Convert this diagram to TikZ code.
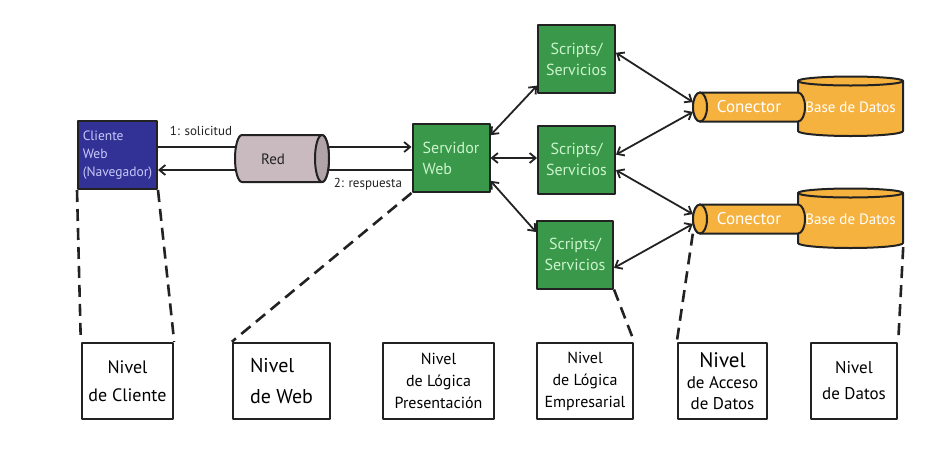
\documentclass[tikz,border=0pt]{standalone}
\usepackage{fontspec}
\setmainfont{PT Sans}
\usetikzlibrary{arrows.meta}

\definecolor{ink}{RGB}{34,34,34}
\definecolor{cliblue}{RGB}{50,50,150}
\definecolor{paleb}{RGB}{200,200,250}
\definecolor{srvgreen}{RGB}{58,152,74}
\definecolor{paleg}{RGB}{205,245,205}
\definecolor{dborange}{RGB}{246,178,62}
\definecolor{redgray}{RGB}{200,186,191}

\begin{document}
\begin{tikzpicture}[x=1pt,y=-1pt,line join=round,>={Straight Barb[length=6pt,width=10pt]},
	solid box/.style={draw=ink,line width=2pt,minimum height=68pt},
	script/.style={solid box,fill=srvgreen,text=paleg,minimum width=77pt,align=center,font=\fontsize{16}{21}\selectfont},
	level/.style={draw=ink,line width=2.4pt,fill=white,minimum height=76pt,align=center,inner sep=0pt},
	link/.style={draw=ink,line width=1.8pt},
	tier/.style={draw=ink,line width=2.6pt,dash pattern=on 12pt off 7pt}]
	\useasboundingbox (0,0) rectangle (944,456);

		\node[solid box,fill=cliblue,text=paleb,minimum width=79pt,align=left,font=\fontsize{13.5}{18}\selectfont] (cli) at (117.5,155) {Cliente\\Web\\(Navegador)};
		\node[script,align=left] (srv) at (451,158) {Servidor\\Web};
		\node[script] (s1) at (576.5,59) {Scripts/\\Servicios};
		\node[script] (s2) at (576.5,159.5) {Scripts/\\Servicios};
		\node[script,minimum width=76pt] (s3) at (575,254.5) {Scripts/\\Servicios};

		\draw[link,->] (cli.east |- 0,147) -- (srv.west |- 0,147);
		\draw[link,->] (srv.west |- 0,170) -- (cli.east |- 0,170);
		\draw[ink,line width=2pt,fill=redgray] (322,135) -- (242,135) arc[start angle=270,end angle=90,x radius=7,y radius=23.5] -- (322,182) arc[start angle=90,end angle=-90,x radius=7,y radius=23.5] -- cycle;
		\draw[ink,line width=2pt,fill=redgray!88!black] (322,158.5) ellipse[x radius=7,y radius=23.5];
		\node[text=ink,font=\fontsize{15}{18}\selectfont] (red) at (273,159) {Red};
		\node[text=ink,font=\fontsize{13}{16}\selectfont] (solic) at (201,131) {1: solicitud};
		\node[text=ink,font=\fontsize{13}{16}\selectfont] (resp) at (368,184) {2: respuesta};

		\foreach \n/\c in {1/107,2/219}{
			\draw[ink,line width=2pt,fill=dborange] (798,\c-26) -- (798,\c+24) arc[start angle=180,end angle=0,x radius=52.5,y radius=5] -- (903,\c-26) -- cycle;
			\draw[ink,line width=2pt,fill=dborange] (850.5,\c-26) ellipse[x radius=52.5,y radius=4.5];
			\draw[ink,line width=2pt,fill=dborange] (700,\c-14.5) -- (798,\c-14.5) arc[start angle=270,end angle=450,x radius=7,y radius=14.5] -- (700,\c+14.5) arc[start angle=90,end angle=270,x radius=7,y radius=14.5] -- cycle;
			\draw[ink,line width=2pt,fill=dborange] (700,\c) ellipse[x radius=7,y radius=14.5];
			\node[text=white,font=\fontsize{17}{20}\selectfont,minimum width=112pt,minimum height=29pt] (con\n) at (749,\c) {Conector};
			\node[text=white,font=\fontsize{15}{18}\selectfont,minimum width=105pt,minimum height=56pt] (bd\n) at (850.5,\c) {Base de Datos};
		}

		\draw[link,<->] (srv.30) -- (s1.214);
		\draw[link,<->] (srv.east) -- (srv.east -| s2.west);
		\draw[link,<->] (srv.-30) -- (s3.150);
		\draw[link,<->] (s1.9) -- (con1.175);
		\draw[link,<->] (s2.7) -- (con1.185);
		\draw[link,<->] (s2.-15) -- (con2.175);
		\draw[link,<->] (s3.-19) -- (con2.185);

		\node[level,minimum width=91pt,font=\fontsize{18}{28}\selectfont] (lcli) at (127.5,381) {Nivel\\de Cliente};
		\node[level,minimum width=97pt,align=left,font=\fontsize{20}{31}\selectfont] (lweb) at (281.5,381) {Nivel\\de Web};
		\node[level,minimum width=111pt,font=\fontsize{16}{22}\selectfont] (lpre) at (438.5,381) {Nivel\\de Lógica\\Presentación};
		\node[level,minimum width=96pt,font=\fontsize{16}{22}\selectfont] (lemp) at (585,381) {Nivel\\de Lógica\\Empresarial};
		\node[level,minimum width=89pt,font=\fontsize{17}{21}\selectfont] (lacc) at (722.5,381) {{\fontsize{21}{21}\selectfont Nivel}\\de Acceso\\de Datos};
		\node[level,minimum width=86pt,font=\fontsize{17}{26}\selectfont] (ldat) at (854,381) {Nivel\\de Datos};

		\draw[tier] (cli.south west) -- (lcli.north west);
		\draw[tier] (cli.south east) -- (lcli.north east);
		\draw[tier] (srv.south west) -- (lweb.north west);
		\draw[tier] (s3.south east) -- (lemp.north east);
		\draw[tier] (con2.south west) -- (lacc.north west);
		\draw[tier] (bd2.south east) -- (ldat.north east);
	\end{tikzpicture}
\end{document}
